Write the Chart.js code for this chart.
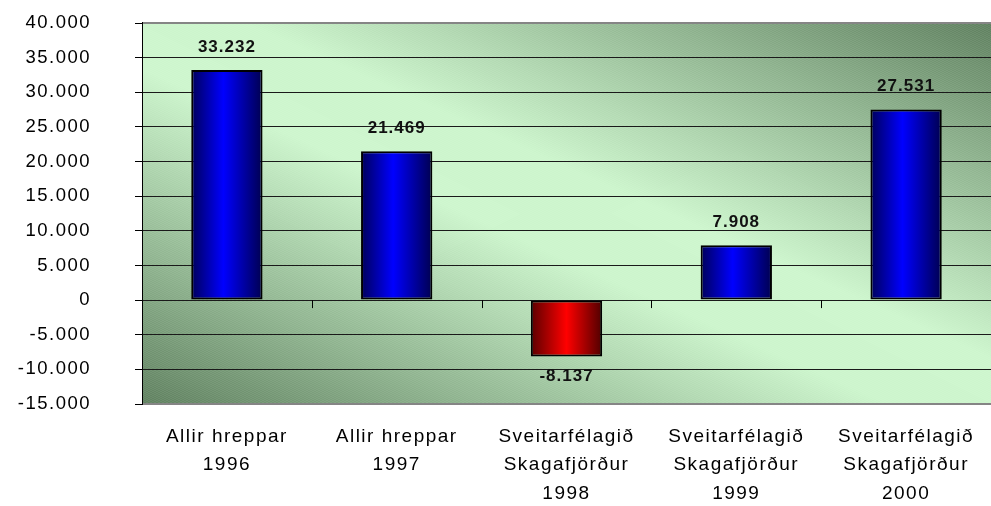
<!DOCTYPE html>
<html><head><meta charset="utf-8">
<script src="https://cdn.jsdelivr.net/npm/chart.js@4"></script>
<style>html,body{margin:0;padding:0;background:#fff}#wrap{width:991px;height:506px}</style>
</head><body><div id="wrap"><canvas id="c" width="991" height="506"></canvas></div>
<script>
const categories = [
  ["Allir hreppar", "1996"],
  ["Allir hreppar", "1997"],
  ["Sveitarfélagið", "Skagafjörður", "1998"],
  ["Sveitarfélagið", "Skagafjörður", "1999"],
  ["Sveitarfélagið", "Skagafjörður", "2000"]
];
const values = [33232, 21469, -8137, 7908, 27531];
const yMin = -15000;
const yMax = 40000;
const yStep = 5000;

const FAMILY = "'Liberation Sans', Arial, sans-serif";
const BAR_PCT = 0.42;

function fmt(v) {
  const s = String(Math.abs(v)).replace(/\B(?=(\d{3})+(?!\d))/g, '.');
  return (v < 0 ? '-' : '') + s;
}

function makeBarGradient(ctx, left, right, v) {
  const g = ctx.createLinearGradient(left, 0, right, 0);
  if (v >= 0) {
    g.addColorStop(0, '#00005a');
    g.addColorStop(0.45, '#0000ff');
    g.addColorStop(1, '#000050');
  } else {
    g.addColorStop(0, '#5a0000');
    g.addColorStop(0.5, '#ff0000');
    g.addColorStop(1, '#500000');
  }
  return g;
}

const bgPlugin = {
  id: 'bg',
  beforeDraw(chart) {
    const ctx = chart.ctx, a = chart.chartArea;
    const W = a.right - a.left, H = a.bottom - a.top;
    const L = Math.sqrt(W * W + H * H);
    const d = W * H / L;
    const cx = (a.left + a.right) / 2, cy = (a.top + a.bottom) / 2;
    const nx = H / L, ny = -W / L;
    ctx.save();
    const g = ctx.createLinearGradient(cx - nx * d, cy - ny * d, cx + nx * d, cy + ny * d);
    g.addColorStop(0, '#5b7d5b');
    g.addColorStop(0.44, '#cbf5cb');
    g.addColorStop(0.56, '#cbf5cb');
    g.addColorStop(1, '#5b7d5b');
    ctx.fillStyle = g;
    ctx.fillRect(a.left, a.top, W, H);
    ctx.beginPath();
    ctx.rect(a.left, a.top, W, H);
    ctx.clip();
    ctx.strokeStyle = 'rgba(255,255,255,0.12)';
    ctx.lineWidth = 1;
    ctx.beginPath();
    for (let k = -2 * H; k < W; k += 4) {
      ctx.moveTo(a.left + k, a.top);
      ctx.lineTo(a.left + k + 2 * H, a.bottom);
    }
    ctx.stroke();
    ctx.restore();
    ctx.letterSpacing = '1.5px';
  },
  beforeDatasetsDraw(chart) {
    const meta = chart.getDatasetMeta(0);
    meta.data.forEach((bar, i) => {
      const p = bar.getProps(['x', 'width'], true);
      if (!isFinite(p.x) || !isFinite(p.width)) return;
      const g = makeBarGradient(chart.ctx, p.x - p.width / 2, p.x + p.width / 2, values[i]);
      bar.options = Object.assign({}, bar.options, { backgroundColor: g });
    });
  },
  afterDatasetsDraw(chart) {
    const ctx = chart.ctx;
    const xs = chart.scales.x, ys = chart.scales.y;
    const y0 = ys.getPixelForValue(0);
    ctx.save();
    ctx.strokeStyle = '#000';
    ctx.lineWidth = 1;
    ctx.beginPath();
    for (let i = 1; i < categories.length; i++) {
      const x = Math.round(xs.left + i * xs.width / categories.length) + 0.5;
      ctx.moveTo(x, y0);
      ctx.lineTo(x, y0 + 8);
    }
    ctx.stroke();
    const meta = chart.getDatasetMeta(0);
    ctx.letterSpacing = '1px';
    ctx.font = 'bold 17px ' + FAMILY;
    ctx.fillStyle = '#111';
    ctx.textAlign = 'center';
    ctx.textBaseline = 'alphabetic';
    meta.data.forEach((bar, i) => {
      const v = values[i];
      if (v >= 0) ctx.fillText(fmt(v), bar.x, bar.y - 18);
      else ctx.fillText(fmt(v), bar.x, bar.y + 25);
    });
    ctx.restore();
    ctx.letterSpacing = '1.5px';
  },
  afterDraw(chart) {
    const ctx = chart.ctx, a = chart.chartArea;
    ctx.save();
    ctx.strokeStyle = '#858585';
    ctx.lineWidth = 2;
    ctx.beginPath();
    ctx.moveTo(a.left, a.top);
    ctx.lineTo(a.right, a.top);
    ctx.moveTo(a.left + 1, a.bottom);
    ctx.lineTo(a.right, a.bottom);
    ctx.stroke();
    ctx.strokeStyle = '#000';
    ctx.lineWidth = 1;
    ctx.beginPath();
    ctx.moveTo(a.left + 0.5, a.top - 1);
    ctx.lineTo(a.left + 0.5, a.bottom);
    ctx.stroke();
    ctx.restore();
  }
};

Chart.defaults.font.family = FAMILY;
new Chart(document.getElementById('c'), {
  type: 'bar',
  data: {
    labels: categories,
    datasets: [{
      data: values,
      backgroundColor: (c) => (values[c.dataIndex] < 0 ? '#d00000' : '#0000d0'),
      borderColor: '#000',
      borderWidth: 2,
      borderSkipped: false,
      barPercentage: BAR_PCT,
      categoryPercentage: 1
    }]
  },
  options: {
    responsive: false,
    animation: false,
    devicePixelRatio: 1,
    layout: { padding: { top: 23, left: 0, right: 0, bottom: 0 } },
    plugins: { legend: { display: false }, tooltip: { enabled: false } },
    scales: {
      x: {
        grid: { display: false, drawTicks: false },
        border: { display: false },
        ticks: {
          color: '#000',
          font: { family: FAMILY, size: 19, lineHeight: 1.48 },
          padding: 19,
          maxRotation: 0,
          autoSkip: false
        },
        afterFit: (s) => { s.height = 102; s.paddingLeft = 0; s.paddingRight = 0; }
      },
      y: {
        min: yMin,
        max: yMax,
        ticks: {
          stepSize: yStep,
          callback: (v) => fmt(v),
          color: '#000',
          font: { family: FAMILY, size: 18.5 },
          padding: 44
        },
        grid: {
          color: (c) => (c.tick && (c.tick.value === yMax || c.tick.value === yMin)) ? '#858585' : '#1a1a1a',
          tickColor: '#000',
          tickLength: 7,
          lineWidth: 1
        },
        border: { display: true, color: '#000', width: 1 },
        afterFit: (s) => { s.width = 142; s.paddingTop = 0; s.paddingBottom = 0; }
      }
    }
  },
  plugins: [bgPlugin]
});
</script>
</body></html>
